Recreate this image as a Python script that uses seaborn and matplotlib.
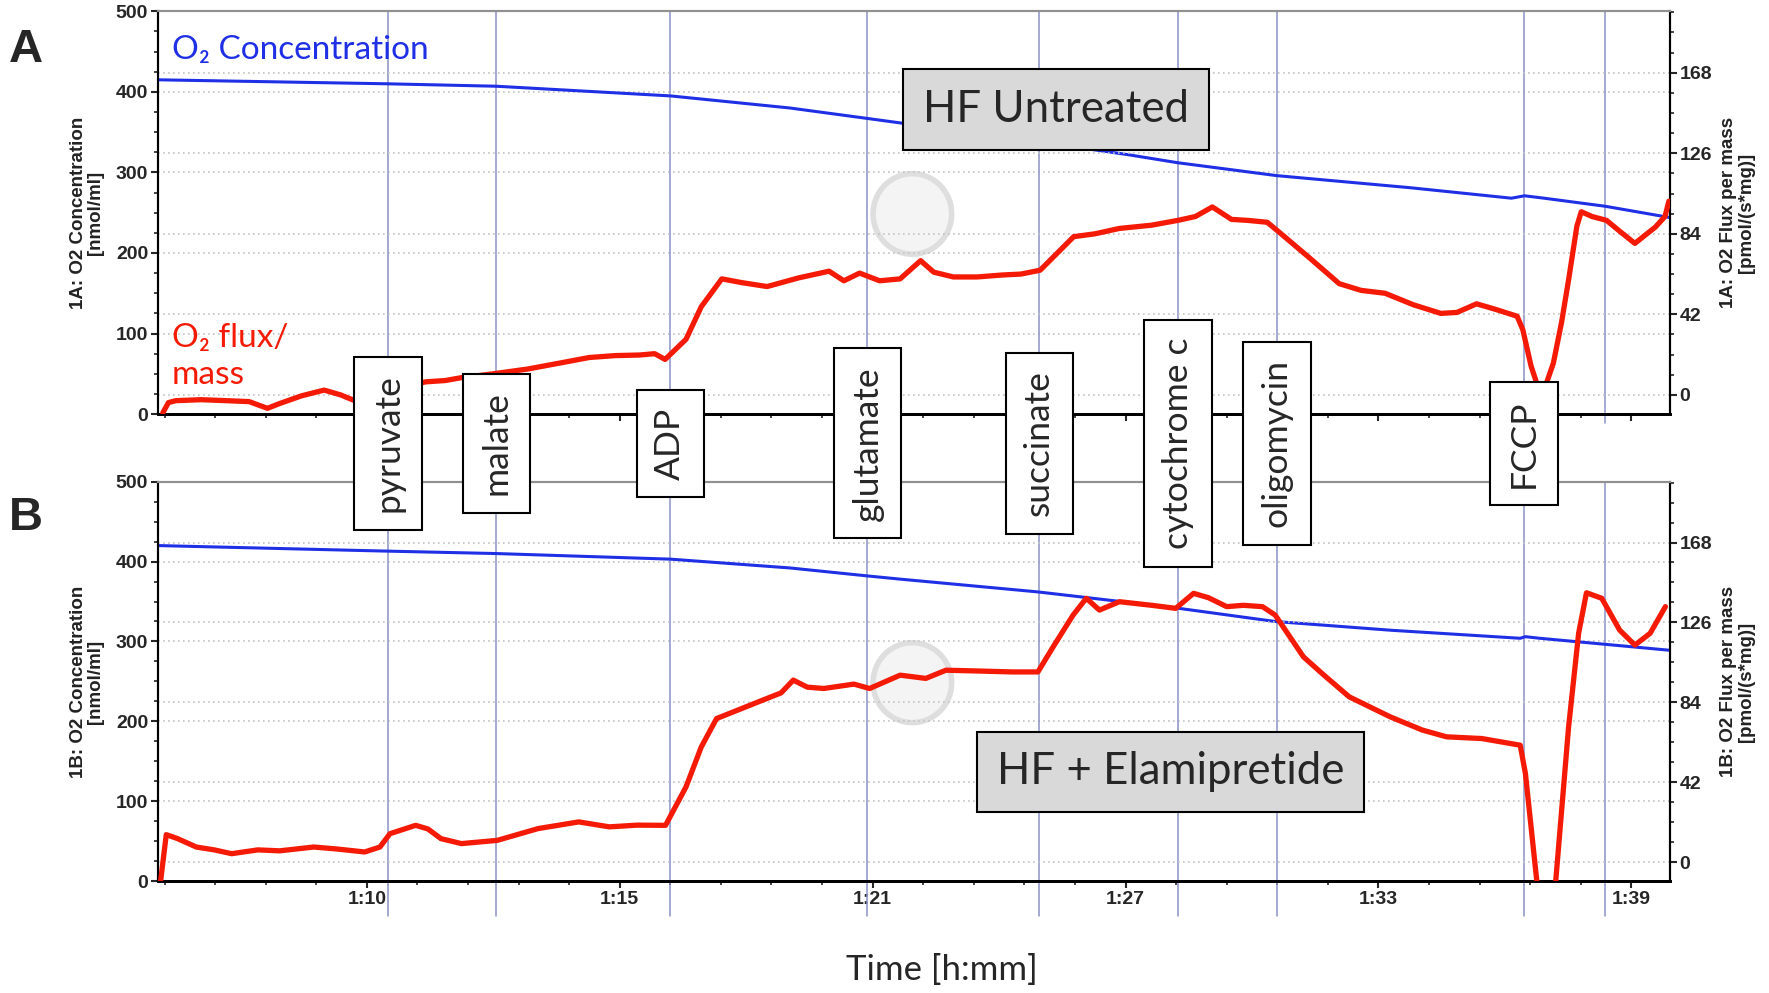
import numpy as np
import pandas as pd
import seaborn as sns
import matplotlib.pyplot as plt
from matplotlib import transforms
from matplotlib.patches import Ellipse
from matplotlib.ticker import FixedLocator

# time axis in minutes (1:10 -> 70)
tick_pos = [70.0, 75.8, 81.6, 87.4, 93.2, 99.0]
tick_lbl = ['1:10', '1:15', '1:21', '1:27', '1:33', '1:39']

events = [70.49, 72.97, 76.96, 81.48, 85.42, 88.60, 90.87, 96.54, 98.40]
event_lbl = ['pyruvate', 'malate', 'ADP', 'glutamate', 'succinate',
             'cytochrome c', 'oligomycin', 'FCCP', None]

# panel A - HF untreated
t_o2_a = [65.2, 70.49, 72.97, 76.96, 79.70, 81.48, 85.42, 87.46, 88.60,
          90.87, 93.93, 96.25, 96.55, 97.0, 98.40, 99.88]
o2_a = [415, 410, 407, 395, 380, 367, 338, 322, 312, 296, 281, 268, 271,
        268, 258, 244]

t_flux_a = [65.32, 65.45, 65.62, 66.2, 66.77, 67.3, 67.72, 68.0, 68.5, 69.02,
            69.4, 69.72, 70.2, 70.6, 71.35, 71.8, 72.17, 72.9, 73.69, 74.4,
            75.10, 75.7, 76.26, 76.6, 76.84, 77.32, 77.67, 78.14, 78.61,
            79.18, 79.9, 80.60, 80.94, 81.30, 81.76, 82.23, 82.70, 83.0,
            83.45, 84.0, 84.56, 85.0, 85.44, 86.21, 86.7, 87.26, 88.0, 88.60,
            89.0, 89.39, 89.83, 90.2, 90.65, 90.94, 91.59, 92.30, 92.8, 93.35,
            94.0, 94.63, 95.0, 95.45, 95.9, 96.38, 96.51, 96.70, 96.86, 97.05,
            97.21, 97.40, 97.56, 97.75, 97.85, 98.1, 98.43, 98.75, 99.08,
            99.3, 99.55, 99.77, 99.86]
flux_a = [-9.4, -4.0, -3.0, -2.5, -3.0, -3.5, -7.0, -4.5, -0.5, 2.5,
          0.0, -3.0, 0.0, 3.0, 6.8, 7.5, 9.0, 11.0, 13.5, 16.5,
          19.5, 20.5, 20.8, 21.5, 18.5, 29, 46, 60.5, 58.5,
          56.5, 61, 64.5, 59.5, 63.5, 59.5, 60.5, 70, 64,
          61.5, 61.5, 62.5, 63, 65, 82.5, 84, 86.8, 88.5, 91,
          93, 98, 91.5, 91, 90, 84.5, 72, 58, 54.5, 53,
          47, 42.5, 43, 47.5, 44.5, 41, 34, 15, 4, 6,
          16.5, 38, 60, 88, 95.5, 93, 91, 85, 79,
          83, 87.5, 93, 101]

# panel B - HF + Elamipretide
t_o2_b = [65.2, 70.49, 72.97, 76.96, 79.7, 81.48, 82.23, 85.39, 88.55, 90.83,
          93.5, 96.45, 96.57, 96.9, 99.88]
o2_b = [420, 413, 410, 403, 392, 382, 378, 362, 342, 325, 314, 304, 306,
        304, 289]

t_flux_b = [65.27, 65.40, 65.65, 66.09, 66.5, 66.90, 67.5, 68.0, 68.78, 69.3,
            69.95, 70.30, 70.53, 71.12, 71.4, 71.70, 72.17, 72.99, 73.93,
            74.86, 75.56, 76.2, 76.85, 77.32, 77.67, 78.02, 78.60, 79.07,
            79.5, 79.78, 80.1, 80.48, 81.17, 81.53, 82.23, 82.82, 83.28,
            84.0, 84.8, 85.39, 85.74, 86.2, 86.50, 86.80, 87.26, 88.0, 88.55,
            88.96, 89.3, 89.72, 90.1, 90.54, 90.83, 91.48, 91.95, 92.53,
            93.47, 94.2, 94.76, 95.57, 96.45, 96.57, 96.85, 97.25, 97.56,
            97.79, 97.97, 98.32, 98.73, 99.08, 99.43, 99.78]
flux_b = [-10, 14.5, 12.5, 8.0, 6.5, 4.5, 6.5, 6.0, 8.0, 7.0,
          5.4, 8.0, 15.0, 19.4, 17.5, 12.4, 9.8, 11.5, 17.7,
          21.2, 18.6, 19.5, 19.4, 39.6, 60.6, 75.5, 80.8, 85.1,
          89, 95.7, 92, 91.3, 93.6, 91.3, 98.3, 96.6, 100.9,
          100.5, 100.0, 100.0, 113.2, 130, 138.7, 132.5, 136.9, 135, 133.4,
          141.3, 139, 134.3, 135, 134.3, 129.9, 107.9, 98.3, 86.9,
          76.4, 69.5, 65.9, 65.0, 61.5, 46.6, -14, -14, 71.1,
          120.3, 141.6, 138.7, 122.0, 114.1, 120.3, 134.3]

sns.set_style("white")
plt.rcParams['font.family'] = ['Lato', 'DejaVu Sans']
tick_font = ['Liberation Sans Narrow', 'Liberation Sans', 'DejaVu Sans']

BLUE = '#1f2fe6'
RED = '#f41a05'
EVT = '#8c92c8'
GRID = '#c4c4c4'

fig = plt.figure(figsize=(17.69, 9.93), dpi=100)
axA = fig.add_axes([0.0893, 0.583, 0.8546, 0.4056])
axB = fig.add_axes([0.0893, 0.1125, 0.8546, 0.4025])


def panel(ax, t_o2, o2, t_fl, fl, tag, show_x, ext):
    ax2 = ax.twinx()
    ax.add_patch(Ellipse((0.499, 0.497), 0.052, 0.2, transform=ax.transAxes,
                         fc='#f4f4f4', ec='#dedede', lw=4, zorder=0))
    for t in events:
        ax.axvline(t, ymin=-ext, ymax=1, color=EVT, lw=1.1, clip_on=False,
                   zorder=1)
    sns.lineplot(x=t_o2, y=o2, ax=ax, color=BLUE, lw=2.2, zorder=3)
    sns.lineplot(x=t_fl, y=fl, ax=ax2, color=RED, lw=3.8, zorder=3)

    ax.set_xlim(65.21, 99.88)
    ax.set_ylim(0, 500)
    ax2.set_ylim(-10, 200)
    ax.set_yticks([0, 100, 200, 300, 400, 500])
    ax.yaxis.set_minor_locator(FixedLocator(np.arange(0, 501, 25)))
    ax2.set_yticks([0, 42, 84, 126, 168])
    ax2.yaxis.set_minor_locator(FixedLocator(np.arange(-10.5, 200, 10.5)))
    ax.set_xticks(tick_pos)
    ax.xaxis.set_minor_locator(FixedLocator(np.arange(65.36, 99.9, 1.16)))
    ax.set_xticklabels(tick_lbl if show_x else [])
    ax.set_xlabel('')
    ax.set_ylabel('')
    ax2.set_ylabel('')

    ax.grid(False)
    for v in [100, 200, 300, 400]:
        ax.axhline(v, color=GRID, lw=1.2, ls=(0, (1, 2)), zorder=0.5)
    for v in [0, 42, 84, 126, 168]:
        ax2.axhline(v, color=GRID, lw=1.2, ls=(0, (1, 2)), zorder=0.5)

    for a in (ax, ax2):
        for s in a.spines.values():
            s.set_color('black')
            s.set_linewidth(1.5)
        a.spines['top'].set_color('#909090')
        a.spines['bottom'].set_linewidth(2)
    ax.tick_params(axis='both', which='major', direction='out', length=5,
                   width=1.5, labelsize=14, pad=2, left=True, bottom=True)
    ax.tick_params(axis='both', which='minor', direction='out', length=3,
                   width=1.2, left=True, bottom=True)
    ax2.tick_params(axis='y', which='major', direction='out', length=5,
                    width=1.5, labelsize=14, pad=2, right=True)
    ax2.tick_params(axis='y', which='minor', direction='out', length=3,
                    width=1.2, right=True)
    for lbl in ax.get_yticklabels() + ax.get_xticklabels() + ax2.get_yticklabels():
        lbl.set_fontfamily(tick_font)
        lbl.set_fontweight('bold')

    ax.text(-0.047, 0.5, tag + ': O2 Concentration\n[nmol/ml]',
            transform=ax.transAxes, rotation=90, ha='center', va='center',
            fontsize=13.5, fontweight='bold', family=tick_font, color='#222222',
            multialignment='center', linespacing=1.05)
    ax.text(1.045, 0.5, tag + ': O2 Flux per mass\n[pmol/(s*mg)]',
            transform=ax.transAxes, rotation=90, ha='center', va='center',
            fontsize=13.5, fontweight='bold', family=tick_font, color='#222222',
            multialignment='center', linespacing=1.05)
    return ax2


axA2 = panel(axA, t_o2_a, o2_a, t_flux_a, flux_a, '1A', False, 0.022)
axB2 = panel(axB, t_o2_b, o2_b, t_flux_b, flux_b, '1B', True, 0.088)

box_style = dict(boxstyle='square,pad=0.45', fc='#d9d9d9', ec='black', lw=1.5)
axA2.text(0.594, 0.756, 'HF Untreated', transform=axA.transAxes, ha='center',
          va='center', fontsize=31.5, bbox=box_style, zorder=10)
axB2.text(0.670, 0.274, 'HF + Elamipretide', transform=axB.transAxes,
          ha='center', va='center', fontsize=31.5, bbox=box_style, zorder=10)

axA.text(0.009, 0.905, 'O₂ Concentration', transform=axA.transAxes,
         color=BLUE, fontsize=24, ha='left', va='center', zorder=10)
axA2.text(0.009, 0.142, 'O₂ flux/\nmass', transform=axA.transAxes, color=RED,
          fontsize=24, ha='left', va='center', linespacing=1.3, zorder=10)

# substrate labels between the panels
blend = transforms.blended_transform_factory(axA.transData, fig.transFigure)
for t, s in zip(events, event_lbl):
    if s is None:
        continue
    fig.text(t, 0.5534, s, transform=blend, rotation=90, ha='center',
             va='center', fontsize=25.5,
             bbox=dict(boxstyle='square,pad=0.5', fc='white', ec='black',
                       lw=1.5), zorder=20)

fig.text(0.005, 0.95, 'A', fontsize=34, fontweight='bold',
         family=['Liberation Sans', 'DejaVu Sans'], va='center')
fig.text(0.005, 0.478, 'B', fontsize=34, fontweight='bold',
         family=['Liberation Sans', 'DejaVu Sans'], va='center')
fig.text(0.5325, 0.0227, 'Time [h:mm]', ha='center', va='center', fontsize=25)

fig.savefig('out.png', dpi=100)
